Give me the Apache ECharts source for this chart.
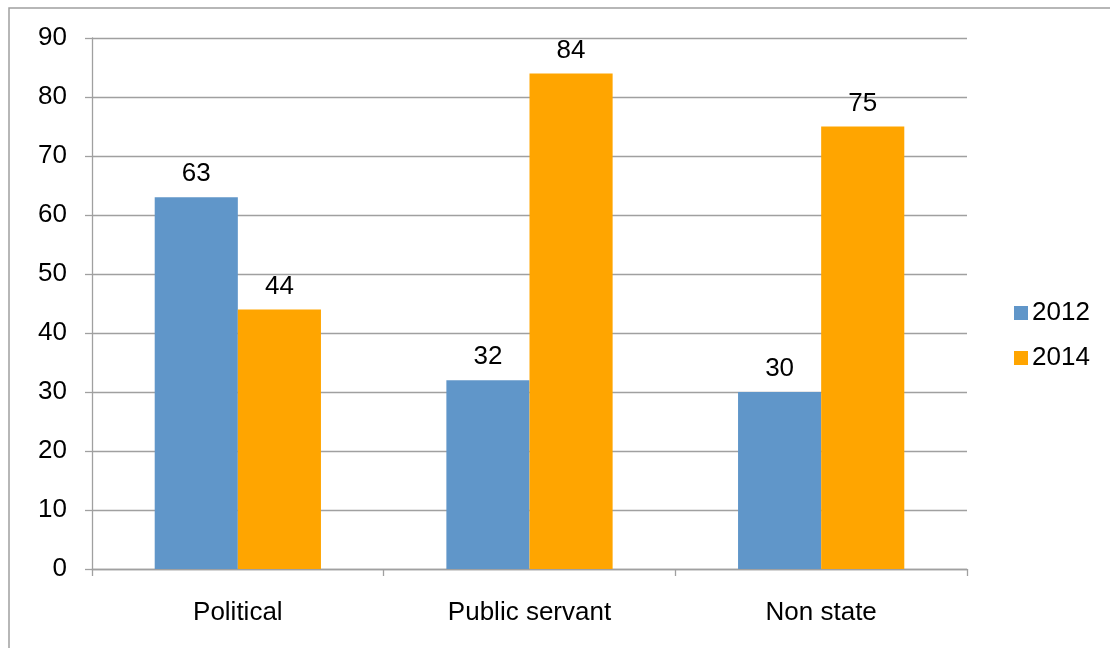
<!DOCTYPE html>
<html>
<head>
<meta charset="utf-8">
<script src="https://cdn.jsdelivr.net/npm/echarts@6/dist/echarts.min.js"></script>
<style>
html,body{margin:0;padding:0;background:#fff;}
#chart{width:1110px;height:648px;}
</style>
</head>
<body>
<div id="chart"></div>
<script>
const categories = ['Political', 'Public servant', 'Non state'];
const seriesNames = ['2012', '2014'];
const values2012 = [63, 32, 30];
const values2014 = [44, 84, 75];
const yTicks = [0, 10, 20, 30, 40, 50, 60, 70, 80, 90];

const chart = echarts.init(document.getElementById('chart'), null, {renderer: 'canvas'});
const grey = '#a0a0a0';
const font = 'Liberation Sans, Arial, sans-serif';
const fs = 26;
const labelOpt = {show: true, position: 'top', distance: 10, color: '#000', fontSize: fs, fontFamily: font};

chart.setOption({
  backgroundColor: '#fff',
  animation: false,
  graphic: [{
    type: 'rect',
    shape: {x: 9, y: 8, width: 1200, height: 700},
    style: {fill: 'none', stroke: '#a0a0a0', lineWidth: 1.5},
    silent: true
  }],
  grid: {left: 92, right: 143, top: 38, bottom: 79, containLabel: false},
  legend: {
    orient: 'vertical',
    left: 1009,
    top: 295,
    itemWidth: 14,
    itemHeight: 14,
    itemGap: 19,
    icon: 'rect',
    textStyle: {fontSize: fs, fontFamily: font, color: '#000', padding: [0, 0, 0, -1]},
    data: seriesNames
  },
  xAxis: {
    type: 'category',
    data: categories,
    axisLine: {show: true, lineStyle: {color: grey, width: 1.3}},
    axisTick: {show: true, length: 7, lineStyle: {color: grey, width: 1.3}},
    axisLabel: {fontSize: fs, fontFamily: font, color: '#000', margin: 31},
    splitLine: {show: false}
  },
  yAxis: {
    type: 'value',
    min: yTicks[0],
    max: yTicks[yTicks.length - 1],
    interval: 10,
    axisLine: {show: true, lineStyle: {color: grey, width: 1.3}},
    axisTick: {show: true, length: 7, lineStyle: {color: grey, width: 1.3}},
    axisLabel: {fontSize: fs, fontFamily: font, color: '#000', margin: 25},
    splitLine: {show: true, lineStyle: {color: grey, width: 1.3}}
  },
  series: [
    {name: seriesNames[0], type: 'bar', data: values2012, barGap: '0%', barCategoryGap: '43%',
     itemStyle: {color: '#6096c9'}, label: labelOpt},
    {name: seriesNames[1], type: 'bar', data: values2014, barGap: '0%', barCategoryGap: '43%',
     itemStyle: {color: '#ffa500'}, label: labelOpt}
  ]
});
</script>
</body>
</html>
